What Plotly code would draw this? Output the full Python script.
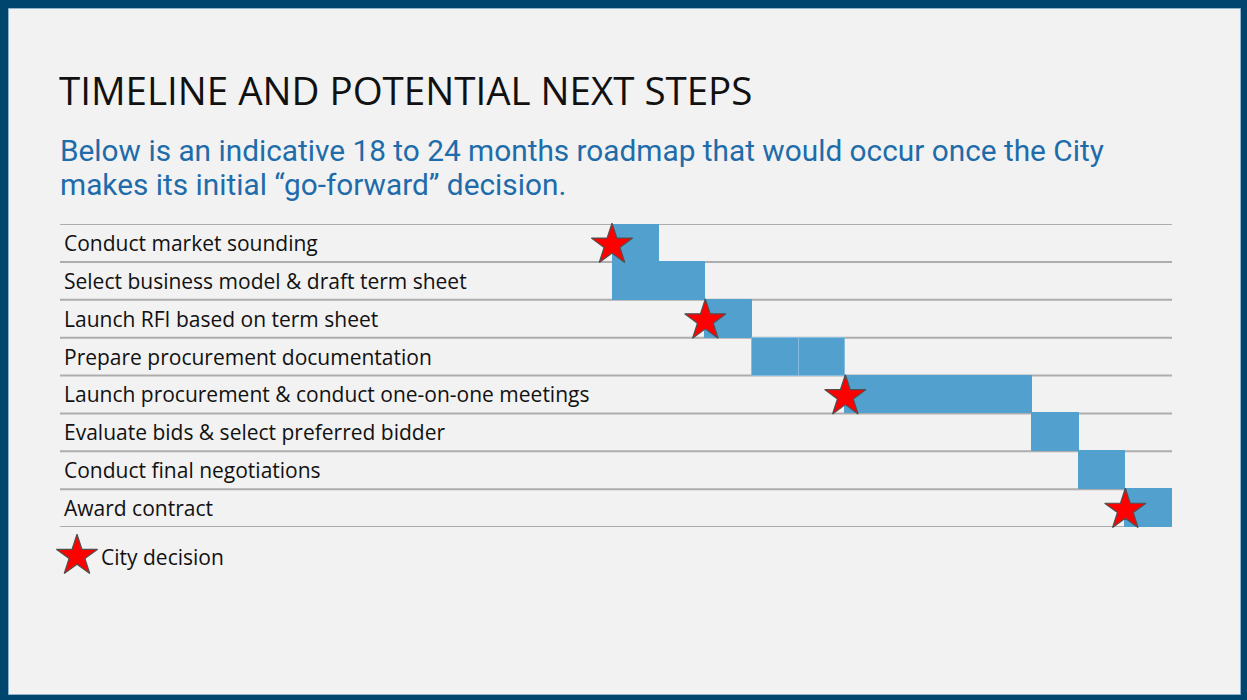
import plotly.graph_objects as go

# ---- data -------------------------------------------------------------
tasks = [
    "Conduct market sounding",
    "Select business model & draft term sheet",
    "Launch RFI based on term sheet",
    "Prepare procurement documentation",
    "Launch procurement & conduct one-on-one meetings",
    "Evaluate bids & select preferred bidder",
    "Conduct final negotiations",
    "Award contract",
]
# bar segments (period units): task index, start period, length
seg_task = [0, 1, 2, 3, 3, 4, 5, 6, 7]
seg_start = [0, 0, 2, 3, 4, 5, 9, 10, 11]
seg_len = [1, 2, 1, 1, 1, 4, 1, 1, 1]
# City decision points: task index and period at which the decision is taken
decision_task = [0, 2, 4, 7]
decision_at = [0, 2, 5, 11]
n_periods = 12

title = "TIMELINE AND POTENTIAL NEXT STEPS"
subtitle_lines = [
    "Below is an indicative 18 to 24 months roadmap that would occur once the City",
    "makes its initial \u201cgo-forward\u201d decision.",
]
legend_label = "City decision"

# ---- styling ----------------------------------------------------------
W, H = 1247, 700
BG = "#F2F2F2"
FRAME = "#00456E"
BAR = "#52A0CE"
STAR = "#FF0000"
RULE = "#ADADAD"
SUB = "#1E6CAA"


def px(x):
    return x / W


def py(y):
    return 1 - y / H


grid_left, grid_right = 60, 1172
bars_left = 612
table_top, table_bottom = 224, 527

star_marker = dict(symbol="star", size=31, color=STAR,
                   line=dict(color="#505050", width=1.2))

fig = go.Figure()

# Gantt bars
line_cols = [("#86BCE0" if t == 3 else BAR) for t in seg_task]
fig.add_trace(go.Bar(
    y=[t + 0.5 for t in seg_task],
    x=seg_len,
    base=seg_start,
    orientation="h",
    width=1,
    marker=dict(color=BAR, line=dict(color=line_cols, width=1)),
    hoverinfo="skip",
    showlegend=False,
))

# decision stars
fig.add_trace(go.Scatter(
    x=decision_at,
    y=[t + 0.55 for t in decision_task],
    mode="markers",
    marker=star_marker,
    cliponaxis=False,
    hoverinfo="skip",
    showlegend=False,
))

# legend key on a page-sized axis pair
fig.add_trace(go.Scatter(
    x=[77], y=[556],
    xaxis="x2", yaxis="y2",
    mode="markers",
    marker=star_marker,
    cliponaxis=False,
    hoverinfo="skip",
    showlegend=False,
))

shapes = [
    # frame and slide area
    dict(type="rect", xref="paper", yref="paper", x0=0, x1=1, y0=0, y1=1,
         fillcolor=FRAME, line=dict(width=0), layer="below"),
    dict(type="rect", xref="paper", yref="paper",
         x0=px(8.5), x1=px(1240.5), y0=py(694.5), y1=py(8.5),
         fillcolor=BG, line=dict(color="#8FB3CC", width=1), layer="below"),
]
# horizontal row rules
for i in range(len(tasks) + 1):
    shapes.append(dict(type="line", xref="paper", yref="y",
                       x0=px(grid_left), x1=px(grid_right), y0=i, y1=i,
                       line=dict(color=RULE, width=2), layer="below"))

annotations = [
    dict(text=title, xref="paper", yref="paper", x=px(57), y=py(90),
         xanchor="left", yanchor="middle", showarrow=False,
         font=dict(family="Open Sans", size=38.5, color="#111111")),
    dict(text=legend_label, xref="paper", yref="paper", x=px(99), y=py(557),
         xanchor="left", yanchor="middle", showarrow=False,
         font=dict(family="Open Sans", size=21, color="#111111")),
]
for k, line in enumerate(subtitle_lines):
    annotations.append(dict(text=line, xref="paper", yref="paper", x=px(58),
                            y=py(150 + 34 * k), xanchor="left", yanchor="middle",
                            showarrow=False,
                            font=dict(family="Roboto", size=29.8, color=SUB)))
for i, t in enumerate(tasks):
    annotations.append(dict(text=t, xref="paper", yref="y", x=px(62), y=i + 0.5,
                            xanchor="left", yanchor="middle", showarrow=False,
                            font=dict(family="Open Sans", size=21, color="#111111")))

fig.update_layout(
    width=W, height=H,
    margin=dict(l=0, r=0, t=0, b=0),
    paper_bgcolor=FRAME,
    plot_bgcolor="rgba(0,0,0,0)",
    shapes=shapes,
    annotations=annotations,
    bargap=0,
    xaxis=dict(domain=[px(bars_left), px(grid_right)], range=[0, n_periods],
               visible=False, fixedrange=True),
    yaxis=dict(domain=[py(table_bottom), py(table_top)], range=[len(tasks), 0],
               visible=False, fixedrange=True),
    xaxis2=dict(domain=[0, 1], range=[0, W], visible=False, anchor="y2",
                fixedrange=True),
    yaxis2=dict(domain=[0, 1], range=[H, 0], visible=False, anchor="x2",
                fixedrange=True),
)

fig.write_html("out.html")
